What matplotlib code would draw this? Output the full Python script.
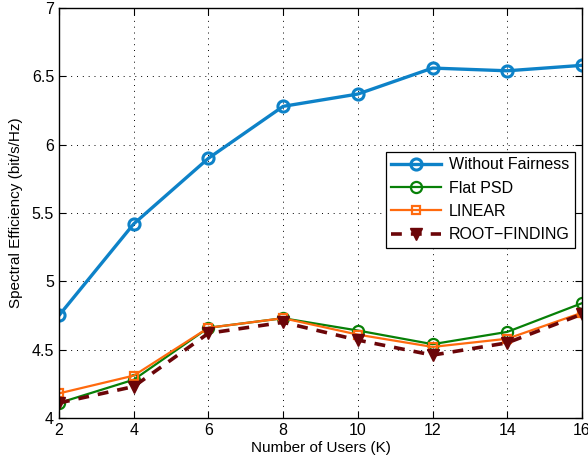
import matplotlib
matplotlib.use("Agg")
import matplotlib.pyplot as plt

plt.rcParams["font.family"] = ["Liberation Sans", "DejaVu Sans"]

users = [2, 4, 6, 8, 10, 12, 14, 16]
without_fairness = [4.75, 5.42, 5.90, 6.28, 6.37, 6.56, 6.54, 6.58]
flat_psd = [4.11, 4.28, 4.66, 4.73, 4.64, 4.54, 4.63, 4.84]
linear = [4.18, 4.31, 4.66, 4.73, 4.61, 4.52, 4.58, 4.77]
root_finding = [4.11, 4.23, 4.62, 4.70, 4.57, 4.46, 4.55, 4.76]

fig = plt.figure(figsize=(5.88, 4.66), dpi=100)
ax = fig.add_axes([0.1003, 0.103, 0.8895, 0.880])

ax.plot(users, without_fairness, color="#0d82c8", lw=2.4, marker="o", ms=8,
        mfc="none", mew=2.2, label="Without Fairness")
ax.plot(users, flat_psd, color="#078007", lw=1.6, marker="o", ms=8,
        mfc="none", mew=1.6, label="Flat PSD")
ax.plot(users, linear, color="#ff6a0e", lw=1.6, marker="s", ms=6,
        mfc="none", mew=1.6, label="LINEAR")
ax.plot(users, root_finding, color="#6b0508", lw=2.6, ls=(0, (3, 2.5)),
        marker="v", ms=9, mfc="#6b0508", mec="#6b0508", label="ROOT\u2212FINDING")

ax.set_xlim(2, 16)
ax.set_ylim(4, 7)
ax.set_xticks(users)
ax.set_yticks([4, 4.5, 5, 5.5, 6, 6.5, 7])
ax.set_yticklabels(["4", "4.5", "5", "5.5", "6", "6.5", "7"])
ax.tick_params(direction="in", top=True, right=True, labelsize=11.5, length=5, width=0.8)
ax.grid(True, color="black", ls=(0, (1, 5)), lw=0.7)
for s in ax.spines.values():
    s.set_linewidth(1.0)

ax.set_xlabel("Number of Users (K)", fontsize=11, labelpad=2)
ax.set_ylabel("Spectral Efficiency (bit/s/Hz)", fontsize=11, labelpad=6)

leg = ax.legend(loc="upper right", bbox_to_anchor=(0.987, 0.649), fontsize=11.5,
                fancybox=False, edgecolor="black", framealpha=1, borderaxespad=0,
                handlelength=3.1, handletextpad=0.5, borderpad=0.35, labelspacing=0.52)
leg.get_frame().set_linewidth(0.9)

fig.savefig("out.png", dpi=100)
